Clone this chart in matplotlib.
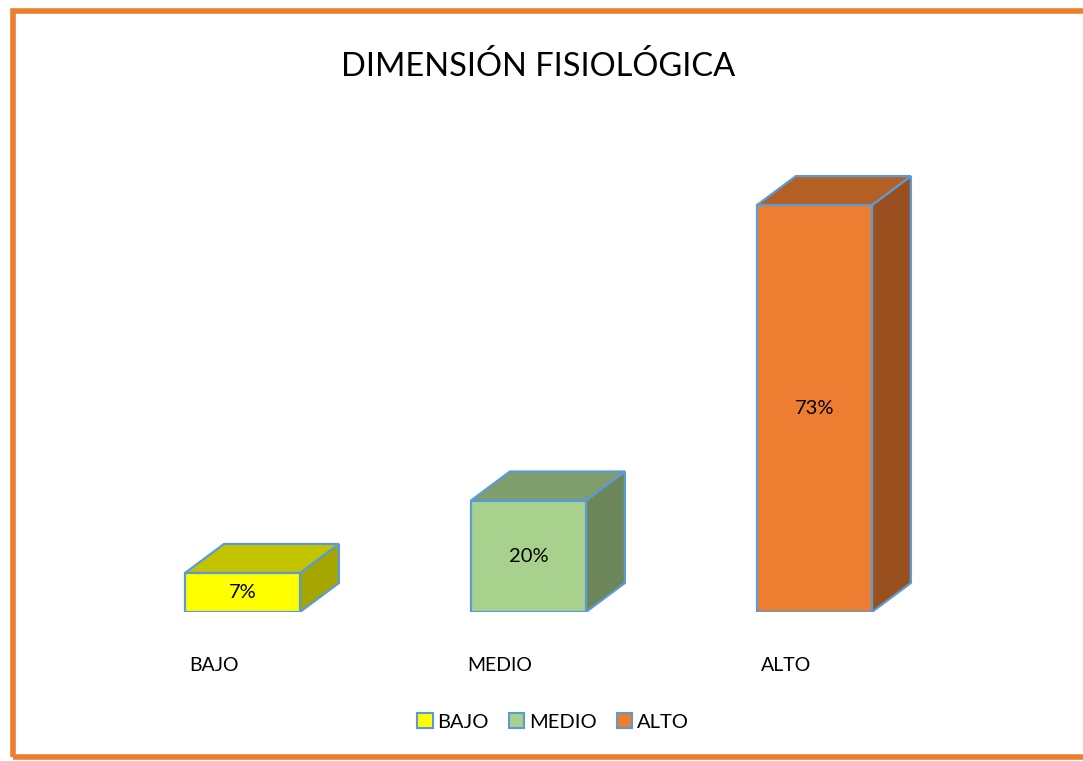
import matplotlib.pyplot as plt
from matplotlib.patches import Polygon, Patch, Rectangle

# data
categorias = ["BAJO", "MEDIO", "ALTO"]
porcentajes = [7, 20, 73]
etiquetas = ["7%", "20%", "73%"]

# colours: front / top / side
frente = ["#FFFF00", "#A9D18E", "#ED7D31"]
arriba = ["#C3C300", "#809E6B", "#B45F23"]
lado = ["#A6A600", "#6C865A", "#9A501E"]
borde = "#5B9BD5"

plt.rcParams['font.family'] = ['Lato', 'DejaVu Sans']

fig = plt.figure(figsize=(10.83, 7.61), dpi=100)
ax = fig.add_axes([0.0919, 0.1958, 0.7922, 0.586])

ancho = 0.402
dx = 0.136   # depth in category units
dy = 5.2     # depth in percent units

for i, v in enumerate(porcentajes):
    x0 = i - ancho / 2
    x1 = i + ancho / 2
    # side face
    ax.add_patch(Polygon([(x1, 0), (x1 + dx, dy), (x1 + dx, v + dy), (x1, v)],
                         closed=True, facecolor=lado[i], edgecolor=borde, lw=1.6, zorder=2))
    # top face
    ax.add_patch(Polygon([(x0, v), (x0 + dx, v + dy), (x1 + dx, v + dy), (x1, v)],
                         closed=True, facecolor=arriba[i], edgecolor=borde, lw=1.6, zorder=2))
    # front face
    ax.bar(i, v, width=ancho, color=frente[i], edgecolor=borde, linewidth=1.6, zorder=3)
    ax.text(i, v / 2, etiquetas[i], ha='center', va='center', fontsize=14.5, zorder=4)
    ax.text(i - 0.1, -0.12, categorias[i], transform=ax.get_xaxis_transform(),
            ha='center', va='center', fontsize=14)

ax.set_xlim(-0.5, 2.5)
ax.set_ylim(0, 80)
ax.axis('off')

fig.text(0.497, 0.913, "DIMENSIÓN FISIOLÓGICA", ha='center', va='center', fontsize=23.5)

handles = [Patch(facecolor=frente[i], edgecolor=borde, linewidth=1.5, label=categorias[i])
           for i in range(3)]
fig.legend(handles=handles, loc='center', bbox_to_anchor=(0.511, 0.051), ncol=3,
           frameon=False, fontsize=14.5, handlelength=0.75, handleheight=0.75,
           handletextpad=0.25, columnspacing=1.0)

# orange frame round the chart
fig.add_artist(Rectangle((0.012, 0.005), 1.1, 0.98, transform=fig.transFigure,
                         fill=False, edgecolor="#ED7D31", linewidth=4))

fig.savefig("out.png", dpi=100)
